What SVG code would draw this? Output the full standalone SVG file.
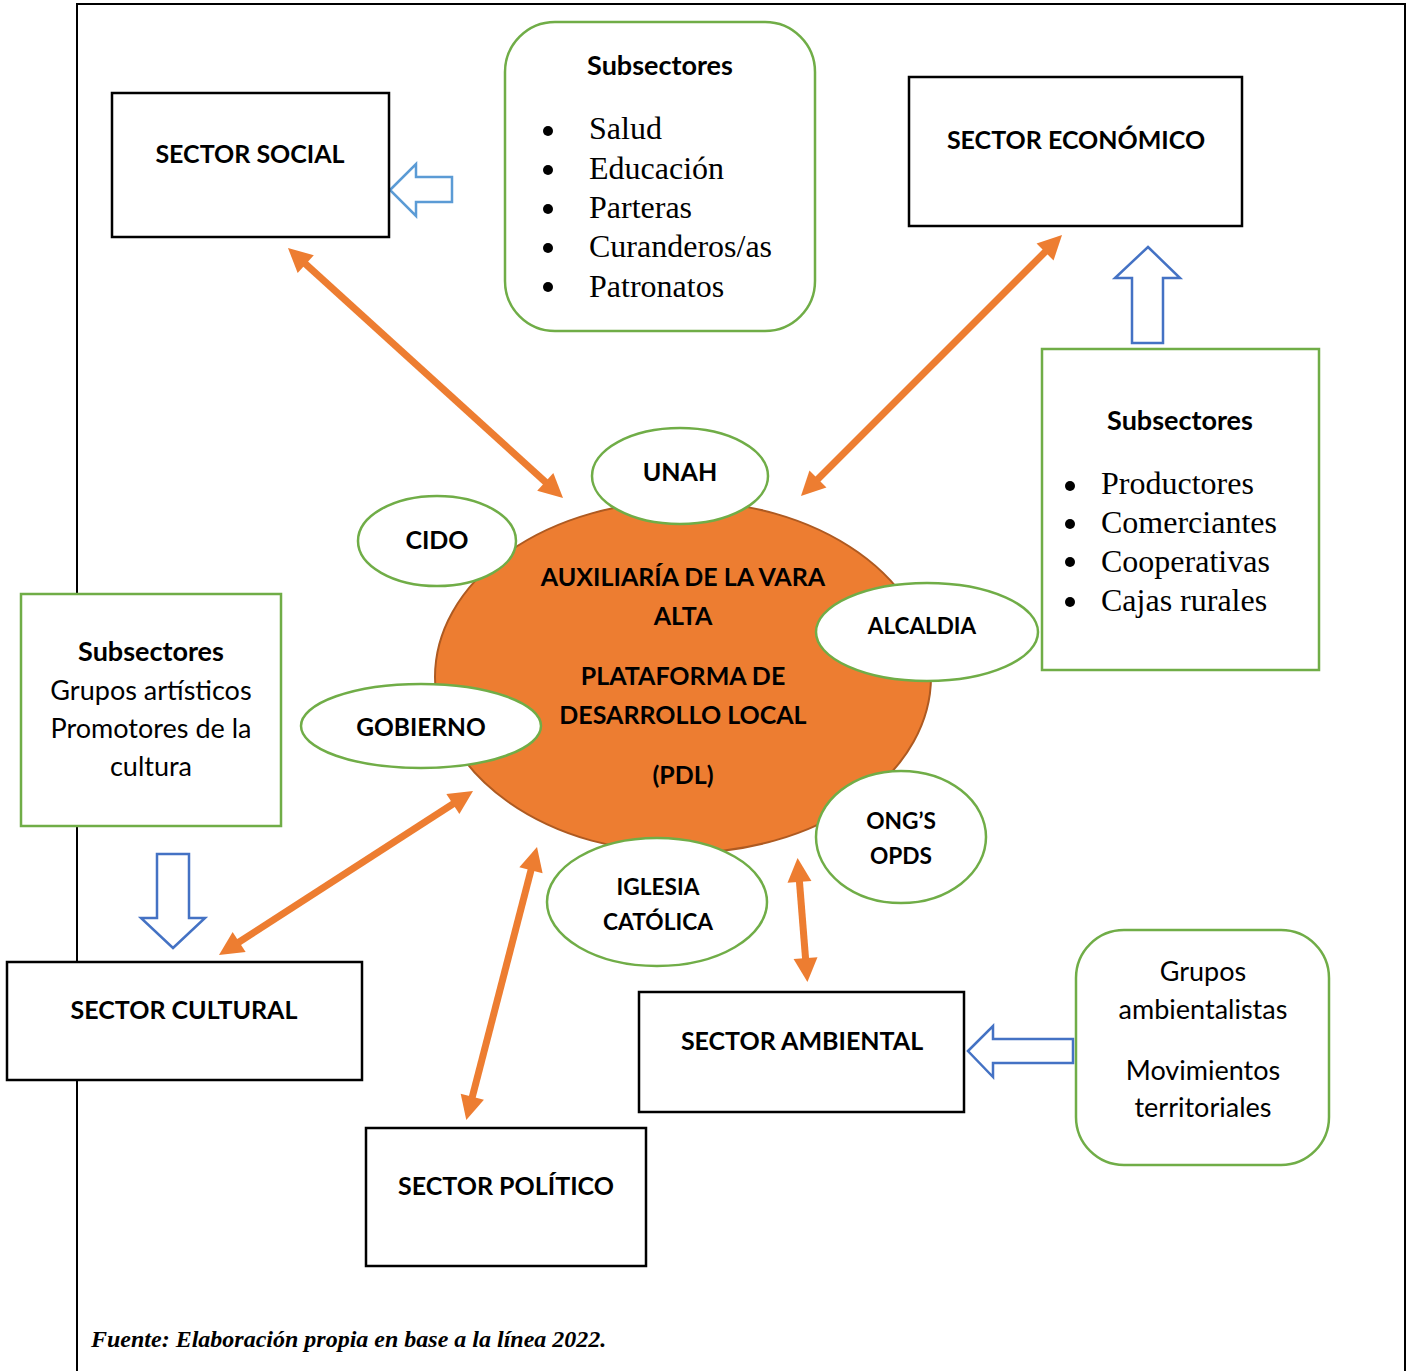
<svg xmlns="http://www.w3.org/2000/svg" width="1408" height="1371" viewBox="0 0 1408 1371">
<style>
.frame{fill:none;stroke:#000;stroke-width:2}
.box{fill:#fff;stroke:#000;stroke-width:2.5}
.gbox{fill:#fff;stroke:#70AD47;stroke-width:2.5}
.ell{fill:#fff;stroke:#70AD47;stroke-width:2.5}
.core{fill:#ED7D31;stroke:#AE5A21;stroke-width:2}
.lbl{font-family:Lato,"Liberation Sans",sans-serif;font-weight:bold;font-size:25px;fill:#000;text-anchor:middle}
.sub{font-size:27px}
.sm{font-size:22.7px}
.reg{font-family:Lato,"Liberation Sans",sans-serif;font-size:27px;fill:#000;text-anchor:middle}
.ser{font-family:"Liberation Serif","Times New Roman",serif;font-size:32px;fill:#000}
.cap{font-family:"Liberation Serif","Times New Roman",serif;font-size:24px;font-weight:bold;font-style:italic;fill:#000}
.oa{stroke:#ED7D31;stroke-width:7;fill:none;marker-start:url(#ah);marker-end:url(#ah)}
.ba{fill:#fff;stroke:#4472C4;stroke-width:2.5;stroke-linejoin:miter}
.ba2{fill:#fff;stroke:#5B9BD5;stroke-width:2.5;stroke-linejoin:miter}
</style>
<defs>
<marker id="ah" markerUnits="userSpaceOnUse" markerWidth="26" markerHeight="26" refX="6" refY="12" orient="auto-start-reverse" overflow="visible">
<path d="M0,0 L24,12 L0,24 z" fill="#ED7D31"/>
</marker>
</defs>
<rect width="1408" height="1371" fill="#fff"/>
<g id="frame">
<polyline class="frame" points="77,1371 77,4 1405,4 1405,1371"/>
</g>
<g id="connectors">
<line class="oa" x1="301.3" y1="260.1" x2="549.7" y2="485.9"/>
<line class="oa" x1="1049.3" y1="247.7" x2="813.7" y2="483.3"/>
<line class="oa" x1="457.9" y1="800.7" x2="234.1" y2="945.3"/>
<line class="oa" x1="532.5" y1="864.4" x2="470.8" y2="1102.6"/>
<line class="oa" x1="799" y1="875.9" x2="806" y2="964.1"/>
<polygon class="ba2" points="390,190 416,164 416,177 452,177 452,202 416,202 416,216"/>
<polygon class="ba" points="1148,247 1180,278 1163,278 1163,343 1132,343 1132,278 1115,278"/>
<polygon class="ba" points="173,948 205,918 189,918 189,854 157,854 157,918 141,918"/>
<polygon class="ba" points="968,1051 993,1026 993,1039 1073,1039 1073,1063 993,1063 993,1077"/>
</g>
<g id="sector-social">
<rect class="box" x="112" y="93" width="277" height="144"/>
<text class="lbl" x="250" y="163">SECTOR SOCIAL</text>
</g>
<g id="subsectores-social">
<rect class="gbox" x="505" y="22" width="310" height="309" rx="50" ry="50"/>
<text class="lbl sub" x="660" y="75">Subsectores</text>
<g fill="#000">
<circle cx="548" cy="131" r="5"/><circle cx="548" cy="170" r="5"/><circle cx="548" cy="209" r="5"/><circle cx="548" cy="248" r="5"/><circle cx="548" cy="287" r="5"/>
</g>
<text class="ser" x="589" y="139">Salud</text>
<text class="ser" x="589" y="179">Educación</text>
<text class="ser" x="589" y="218">Parteras</text>
<text class="ser" x="589" y="257">Curanderos/as</text>
<text class="ser" x="589" y="297">Patronatos</text>
</g>
<g id="sector-economico">
<rect class="box" x="909" y="77" width="333" height="149"/>
<text class="lbl" x="1076" y="149">SECTOR ECONÓMICO</text>
</g>
<g id="subsectores-economico">
<rect class="gbox" x="1042" y="349" width="277" height="321"/>
<text class="lbl sub" x="1180" y="430">Subsectores</text>
<g fill="#000">
<circle cx="1070" cy="486" r="5"/><circle cx="1070" cy="524" r="5"/><circle cx="1070" cy="562" r="5"/><circle cx="1070" cy="602" r="5"/>
</g>
<text class="ser" x="1101" y="494">Productores</text>
<text class="ser" x="1101" y="533">Comerciantes</text>
<text class="ser" x="1101" y="572">Cooperativas</text>
<text class="ser" x="1101" y="611">Cajas rurales</text>
</g>
<g id="pdl">
<ellipse class="core" cx="683" cy="677" rx="248" ry="176"/>
<text class="lbl" x="683" y="586">AUXILIARÍA DE LA VARA</text>
<text class="lbl" x="683" y="625">ALTA</text>
<text class="lbl" x="683" y="685">PLATAFORMA DE</text>
<text class="lbl" x="683" y="724">DESARROLLO LOCAL</text>
<text class="lbl" x="683" y="784">(PDL)</text>
</g>
<g id="unah">
<ellipse class="ell" cx="680" cy="476" rx="88" ry="48"/>
<text class="lbl" x="680" y="481">UNAH</text>
</g>
<g id="cido">
<ellipse class="ell" cx="437" cy="541" rx="79" ry="45"/>
<text class="lbl" x="437" y="549">CIDO</text>
</g>
<g id="alcaldia">
<ellipse class="ell" cx="927" cy="632" rx="111" ry="49"/>
<text class="lbl" x="922" y="634" style="font-size:22.5px">ALCALDIA</text>
</g>
<g id="gobierno">
<ellipse class="ell" cx="421" cy="726" rx="120" ry="42"/>
<text class="lbl" x="421" y="736" style="font-size:24.5px">GOBIERNO</text>
</g>
<g id="ongs">
<ellipse class="ell" cx="901" cy="837" rx="85" ry="66"/>
<text class="lbl sm" x="901" y="829">ONG’S</text>
<text class="lbl sm" x="901" y="864">OPDS</text>
</g>
<g id="iglesia">
<ellipse class="ell" cx="657" cy="902" rx="110" ry="64"/>
<text class="lbl sm" x="658" y="895">IGLESIA</text>
<text class="lbl sm" x="658" y="930">CATÓLICA</text>
</g>
<g id="subsectores-cultural">
<rect class="gbox" x="21" y="594" width="260" height="232"/>
<text class="lbl sub" x="151" y="661">Subsectores</text>
<text class="reg" x="151" y="700">Grupos artísticos</text>
<text class="reg" x="151" y="738">Promotores de la</text>
<text class="reg" x="151" y="776">cultura</text>
</g>
<g id="sector-cultural">
<rect class="box" x="7" y="962" width="355" height="118"/>
<text class="lbl" x="184" y="1019">SECTOR CULTURAL</text>
</g>
<g id="sector-ambiental">
<rect class="box" x="639" y="992" width="325" height="120"/>
<text class="lbl" x="802" y="1050">SECTOR AMBIENTAL</text>
</g>
<g id="subsectores-ambiental">
<rect class="gbox" x="1076" y="930" width="253" height="235" rx="48" ry="48"/>
<text class="reg" x="1203" y="981">Grupos</text>
<text class="reg" x="1203" y="1019">ambientalistas</text>
<text class="reg" x="1203" y="1080">Movimientos</text>
<text class="reg" x="1203" y="1117">territoriales</text>
</g>
<g id="sector-politico">
<rect class="box" x="366" y="1128" width="280" height="138"/>
<text class="lbl" x="506" y="1195">SECTOR POLÍTICO</text>
</g>
<g id="caption">
<text class="cap" x="91" y="1347">Fuente: Elaboración propia en base a la línea 2022.</text>
</g>
</svg>
